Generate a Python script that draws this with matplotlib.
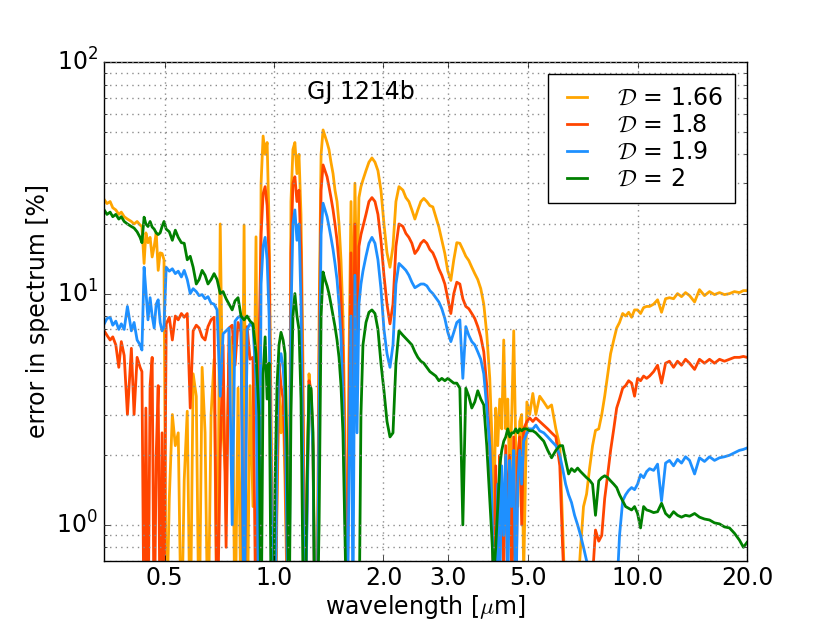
import matplotlib
matplotlib.use("Agg")
import matplotlib.pyplot as plt
from matplotlib.ticker import FormatStrFormatter, NullLocator

# wavelength grid [micron]
wavelength = [
    0.341, 0.347, 0.354, 0.360, 0.367, 0.374, 0.380, 0.387, 0.395, 0.405, 0.412, 0.420, 0.428,
    0.433, 0.439, 0.444, 0.450, 0.456, 0.462, 0.468, 0.474, 0.480, 0.486, 0.492, 0.498, 0.505,
    0.515, 0.525, 0.535, 0.545, 0.556, 0.566, 0.577, 0.588, 0.599, 0.611, 0.622, 0.634, 0.646,
    0.658, 0.671, 0.684, 0.697, 0.711, 0.724, 0.738, 0.752, 0.767, 0.781, 0.796, 0.811, 0.827,
    0.843, 0.859, 0.875, 0.892, 0.909,
    0.921, 0.933, 0.945, 0.957, 0.969, 0.981, 0.994, 1.006, 1.019, 1.032, 1.045, 1.059, 1.072,
    1.086, 1.099, 1.113, 1.127, 1.141, 1.156, 1.171, 1.186, 1.201, 1.216, 1.232, 1.248, 1.264,
    1.280, 1.296, 1.313, 1.330, 1.347, 1.364, 1.381, 1.399, 1.416, 1.434, 1.453, 1.471, 1.490,
    1.509, 1.528, 1.547, 1.567, 1.587, 1.607, 1.628, 1.648, 1.669, 1.691, 1.712, 1.734, 1.756,
    1.790, 1.824, 1.859, 1.895, 1.931, 1.968, 2.006, 2.045, 2.084, 2.124, 2.164, 2.206,
    2.262, 2.305, 2.349, 2.394, 2.440, 2.486, 2.534, 2.582, 2.632, 2.683, 2.734, 2.786, 2.840,
    2.894, 2.950, 3.006, 3.064, 3.122, 3.182, 3.244, 3.306, 3.369, 3.433, 3.499, 3.566, 3.634,
    3.704, 3.775, 3.847, 3.921,
    3.971, 4.021, 4.072, 4.124, 4.177, 4.230, 4.284, 4.338, 4.394, 4.45, 4.507, 4.564, 4.622,
    4.681, 4.74, 4.80, 4.86, 4.96, 5.05,
    5.15, 5.25, 5.38, 5.52, 5.66, 5.80, 5.96, 6.11, 6.22, 6.34, 6.46, 6.58, 6.71, 6.84, 6.97,
    7.10, 7.24, 7.38, 7.52, 7.66, 7.82, 7.97, 8.12, 8.28, 8.43, 8.60, 8.76, 8.92, 9.10, 9.27,
    9.45, 9.63, 9.81, 10.0, 10.19, 10.39, 10.59, 10.79, 11.07, 11.35, 11.64, 11.94, 12.24,
    12.56, 12.88, 13.21, 13.55, 13.9, 14.35, 14.8, 15.28, 15.77, 16.28, 16.8, 17.34, 17.9,
    18.47, 19.06, 19.55, 20.0,
]

# error in spectrum [%] for each D
err_166 = [
    25.5, 24.5, 25, 23.5, 23, 22, 22.5, 21.5, 21, 20.5, 20, 20.5, 19.8,
    19.5, 13.5, 18.3, 16.6, 17.5, 14.4, 16, 18.3, 12.6, 15, 14.9, 14, 0.3,
    1.3, 3.0, 2.2, 2.5, 0.3, 1.56, 3.1, 0.3, 4.5, 3.6, 0.3, 4.8, 2.5,
    0.3, 3.0, 5.2, 0.3, 20, 2.5, 1.5, 5.5, 6.5, 0.3, 3.9, 0.4, 19.8,
    0.3, 4.0, 1.2, 17.6, 0.3,
    30, 48, 40, 45, 20, 3, 0.3, 0.3, 1.2, 3.9, 2.5, 3.5, 1.5,
    0.5, 0.3, 25, 42, 45, 33, 40, 22, 5, 0.3, 1.5, 4.5, 3.5,
    2.0, 0.3, 0.3, 8, 40, 51, 48, 45, 42, 37, 33, 28, 25,
    20, 14, 8, 2.5, 0.3, 5, 25, 6, 30, 9, 26, 29, 31,
    34, 37, 38.6, 37, 34, 28, 20, 15, 13, 16, 25, 29,
    28, 26, 25, 23, 21, 23, 25, 25.8, 25, 24, 23.7, 21.5, 19.4,
    17, 14.9, 12.5, 11.4, 14, 16.6, 16.5, 15.5, 14.5, 13.9, 13, 12.2, 11.5,
    10.5, 9, 6.7, 4.3,
    2.5, 1.0, 3.2, 2.2, 3.5, 2.6, 6.3, 2.6, 3.5, 1.5, 3.0, 6.9, 2.2,
    1.2, 2.8, 3.0, 0.6, 3.4, 3.0,
    3.7, 3.0, 3.6, 3.4, 3.2, 3.3, 2.6, 2.2, 1.0, 0.4, 0.3, 0.3, 0.3, 0.5, 0.8,
    1.2, 1.36, 1.76, 2.2, 2.56, 2.6, 3.0, 3.6, 4.5, 5.5, 6.3, 7.1, 7.5, 8.2, 8.0,
    8.3, 7.9, 8.5, 8.5, 8.2, 8.7, 8.8, 8.8, 9.0, 9.4, 8.3, 9.5, 9.6,
    9.5, 10, 9.7, 10.1, 9.8, 9.2, 10.4, 9.8, 10.2, 9.9, 10.1, 9.9,
    10, 10.2, 10.1, 10.3, 10.3,
]
err_18 = [
    6.9, 6.6, 6.3, 6.5, 6.0, 4.8, 6.2, 5.4, 3.0, 5.8, 3.0, 5.3, 4.8,
    4.6, 0.3, 3.2, 0.3, 4.0, 5.3, 0.3, 2.0, 4.0, 0.3, 2.5, 0.4, 7.4,
    7.9, 6.3, 8.0, 7.7, 8.2, 7.9, 8.2, 3.2, 6.9, 7.3, 7.1, 6.5, 6.3,
    7.2, 7.7, 7.9, 0.3, 2.0, 6.0, 0.8, 7.1, 7.3, 4.9, 7.5, 6.8, 0.3,
    7.2, 5.2, 5.3, 0.3, 6.0,
    18, 27, 29, 24, 14, 2, 0.3, 0.3, 1.5, 5.0, 4.0, 3.5, 2.0,
    0.6, 0.3, 15, 30, 32, 25, 28, 15, 3, 0.3, 1.2, 4.2, 3.8,
    2.2, 0.3, 0.3, 5, 28, 36, 34, 32, 29, 26, 23, 20, 17,
    13.5, 9.5, 5.5, 1.8, 0.3, 3.0, 15, 3.5, 20, 5, 16, 18, 19.5,
    22, 25, 26, 25, 22, 17, 12, 9, 7.4, 9, 16, 20,
    19.5, 18.2, 17.5, 16.5, 14.9, 15.5, 16.5, 17, 16.5, 15.5, 15, 14, 12.8,
    12, 11, 9.5, 8.2, 10, 11.2, 11, 9.5, 8.8, 8.6, 8.2, 7.8, 7.2,
    6.5, 5.6, 4.0, 2.2,
    1.2, 0.4, 1.8, 0.5, 2.0, 1.4, 0.6, 2.2, 1.0, 2.0, 0.5, 2.4, 0.4,
    2.0, 2.4, 1.0, 2.6, 2.8, 2.9,
    2.8, 2.9, 2.8, 2.7, 2.6, 2.5, 2.4, 1.8, 0.8, 0.4, 0.3, 0.3, 0.3, 0.3, 0.3,
    0.3, 0.3, 0.3, 0.6, 0.95, 0.85, 0.9, 1.3, 1.66, 2.1, 2.6, 3.2, 3.5, 3.9, 4.0,
    4.2, 4.1, 3.6, 4.3, 4.2, 4.4, 4.3, 4.4, 4.6, 4.9, 4.1, 5.0, 5.1,
    4.8, 5.1, 4.9, 5.2, 5.0, 4.7, 5.2, 5.0, 5.2, 5.0, 5.2, 5.1,
    5.2, 5.3, 5.3, 5.35, 5.3,
]
err_19 = [
    7.4, 7.8, 7.9, 7.3, 7.6, 7.0, 7.4, 7.0, 8.8, 6.9, 7.5, 6.3, 6.0,
    5.7, 13, 10.3, 7.7, 9.6, 8.0, 7.1, 9.0, 9.4, 7.5, 6.9, 7.2, 13,
    12.5, 12.8, 12.2, 12.5, 11.8, 12.6, 11.5, 10, 10.5, 10.2, 9.8, 9.9, 9.5,
    9.7, 9.1, 9.0, 8.5, 3.6, 6.7, 6.9, 7.1, 1.0, 7.6, 7.9, 8.0, 0.3,
    7.0, 7.4, 7.2, 4.2, 0.3,
    11, 16, 17.5, 14, 8, 1.5, 0.3, 0.3, 2.5, 5.0, 5.5, 4.8, 3.5,
    0.8, 0.3, 8, 20, 23, 17, 20, 9, 1.5, 0.3, 1.0, 4.0, 3.6,
    2.0, 0.3, 0.3, 3, 18, 24.6, 23, 21.5, 19.5, 17.5, 15.5, 13.5, 11.5,
    9, 6.5, 3.5, 1.2, 0.3, 1.5, 8, 0.4, 12, 2.5, 9, 11, 12.5,
    14.5, 16.5, 17.5, 16.5, 14, 10.5, 7, 5.5, 4.8, 6, 11, 13.5,
    13, 12.6, 12, 11.2, 10.6, 10.8, 11, 11, 10.8, 10.3, 10, 9.6, 9.2,
    8.6, 7.8, 6.8, 6.2, 6.8, 7.5, 7.7, 4.3, 7.2, 6.6, 6.2, 6.0, 5.6,
    5.2, 4.5, 3.2, 2.2,
    1.3, 0.5, 0.4, 1.5, 0.5, 1.8, 0.9, 2.0, 0.5, 1.9, 1.2, 2.1, 0.4,
    1.5, 2.1, 1.5, 2.3, 2.5, 2.6,
    2.6, 2.7, 2.55, 2.5, 2.4, 2.3, 2.2, 2.0, 1.75, 1.5, 1.35, 1.25, 1.1, 1.0, 0.9,
    0.8, 0.7, 0.6, 0.5, 0.4, 0.3, 0.3, 0.3, 0.3, 0.3, 0.3, 0.5, 0.9, 1.27, 1.35,
    1.41, 1.45, 1.42, 1.5, 1.65, 1.6, 1.7, 1.75, 1.72, 1.83, 1.27, 1.85, 1.9,
    1.8, 1.92, 1.85, 1.97, 1.9, 1.66, 1.95, 1.88, 1.97, 1.9, 1.95, 1.97,
    2.0, 2.05, 2.1, 2.12, 2.15,
]
err_2 = [
    23, 22, 22.5, 21.5, 22, 21, 21.5, 20.5, 20, 19.5, 19.2, 18.5, 17.5,
    16.6, 21.4, 20, 19.5, 20.5, 19.4, 19, 18.3, 18, 18.3, 19.5, 20.5, 19,
    18.5, 17, 18.8, 17.5, 16.6, 16.5, 14, 14.5, 13, 11, 11.5, 12.6, 12,
    11, 11.5, 12.2, 11.5, 10, 10.2, 9.5, 9, 8.5, 9.3, 9.6, 8.0, 7.7,
    8.0, 7.6, 7.4, 5.5, 3.0,
    0.3, 4.5, 6.5, 3.5, 5, 0.5, 0.3, 1.5, 4, 6, 6.8, 6.3, 5.5,
    2.0, 0.3, 3, 8, 10, 8, 7, 3.5, 0.6, 0.3, 1.5, 4.0, 3.9,
    2.5, 0.3, 0.3, 1.0, 8, 12.4, 11.5, 10.8, 10, 9, 8, 7.2, 6.3,
    5.3, 4.0, 2.5, 0.9, 0.3, 0.3, 0.3, 0.3, 0.3, 0.3, 0.3, 3, 6,
    7.5, 8.3, 8.5, 8.2, 7, 5, 3.8, 2.8, 2.4, 2.5, 5, 6.9,
    6.6, 6.4, 6.2, 6.0, 5.6, 5.3, 5.1, 5.0, 4.8, 4.6, 4.5, 4.4, 4.2,
    4.3, 4.2, 4.3, 4.2, 4.1, 4.1, 3.9, 1.0, 3.9, 3.6, 3.2, 3.4, 3.8,
    3.5, 3.3, 2.2, 1.3,
    0.9, 0.6, 0.8, 1.2, 1.8, 2.1, 2.3, 2.4, 2.6, 2.4, 2.5, 2.5, 2.6,
    2.5, 2.6, 2.55, 2.6, 2.6, 2.55,
    2.55, 2.5, 2.4, 2.3, 2.1, 1.95, 2.1, 2.2, 2.2, 1.9, 1.66, 1.75, 1.7, 1.76, 1.7,
    1.65, 1.6, 1.56, 1.5, 1.1, 1.55, 1.6, 1.63, 1.6, 1.55, 1.5, 1.45, 1.35, 1.27, 1.2,
    1.18, 1.16, 1.2, 1.12, 0.97, 1.2, 1.16, 1.15, 1.13, 1.14, 1.24, 1.12, 1.08,
    1.14, 1.1, 1.08, 1.1, 1.09, 1.12, 1.08, 1.06, 1.05, 1.02, 1.01, 0.98,
    0.97, 0.92, 0.86, 0.8, 0.84,
]

labels = [r'$\mathcal{D}$ = 1.66', r'$\mathcal{D}$ = 1.8',
          r'$\mathcal{D}$ = 1.9', r'$\mathcal{D}$ = 2']
colors = ['orange', 'orangered', 'dodgerblue', 'green']
xticks = [0.5, 1.0, 2.0, 3.0, 5.0, 10.0, 20.0]

plt.style.use('classic')
plt.rcParams['mathtext.fontset'] = 'cm'
plt.rcParams['font.size'] = 17

fig = plt.figure(figsize=(8.3, 6.23), dpi=100, facecolor='white')
fig.subplots_adjust(left=0.125, right=0.9, bottom=0.1, top=0.9)
ax = fig.add_subplot(111)

for ys, c, lab in zip([err_166, err_18, err_19, err_2], colors, labels):
    ax.plot(wavelength, ys, color=c, lw=2.0, label=lab)

ax.set_xscale('log')
ax.set_yscale('log')
ax.set_xlim(0.34, 20)
ax.set_ylim(0.7, 100)
ax.set_xticks(xticks)
ax.xaxis.set_major_formatter(FormatStrFormatter('%.1f'))
ax.xaxis.set_minor_locator(NullLocator())
ax.tick_params(labelsize=17)
ax.grid(True, which='major', axis='x', color='0.55', linestyle=':', lw=1.0)
ax.grid(True, which='both', axis='y', color='0.55', linestyle=':', lw=1.0)

ax.set_xlabel(r'wavelength [$\mu$m]', fontsize=17, labelpad=2)
ax.set_ylabel('error in spectrum [%]', fontsize=17)
ax.text(0.40, 0.94, 'GJ 1214b', transform=ax.transAxes, ha='center', va='center', fontsize=17)

ax.legend(loc='upper right', fontsize=17, handlelength=1.45, handletextpad=1.0,
          labelspacing=0.13, borderpad=0.5, frameon=True)

fig.savefig('out.png', dpi=100, facecolor='white')
